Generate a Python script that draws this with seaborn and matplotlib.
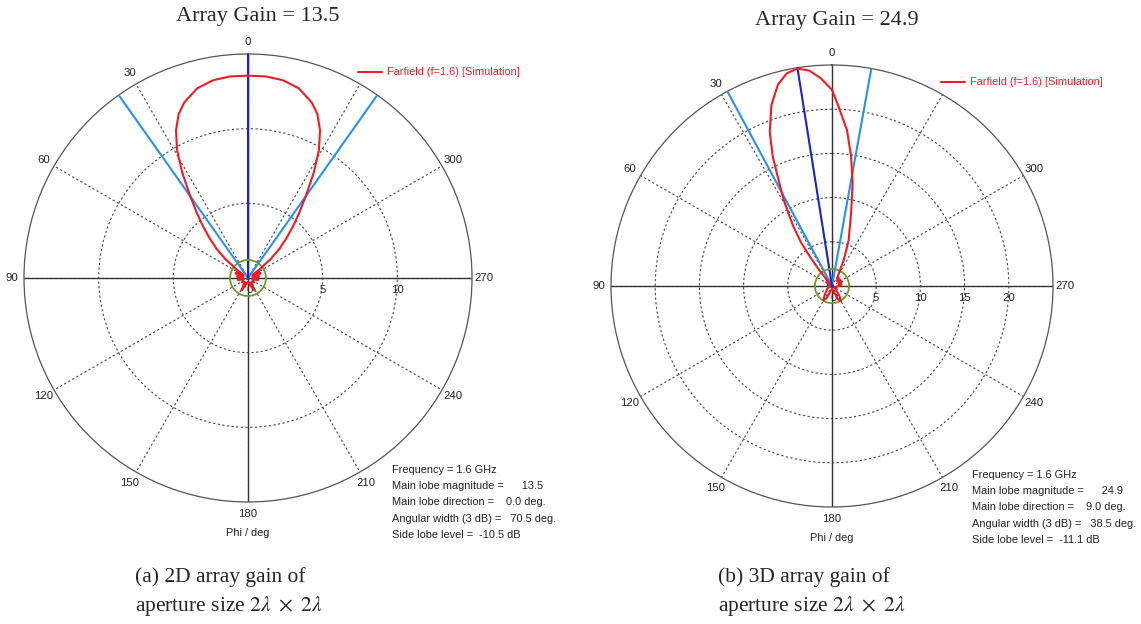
import numpy as np
import matplotlib
matplotlib.use("Agg")
import matplotlib.pyplot as plt
from matplotlib.lines import Line2D
import seaborn as sns

# ---------------- data ----------------
# (a) 2D array: farfield magnitude (linear) vs phi (deg, counter-clockwise from top)
a_theta = [0, 5, 10, 15, 20, 23, 26, 29, 32, 35, 38, 41, 44, 47, 50, 53, 56, 60, 64, 69, 74, 82, 90,
           100, 110, 125, 140, 152, 160, 170, 180, 190, 200, 208, 220, 235, 250, 260, 270, 278, 286,
           291, 296, 300, 304, 307, 310, 313, 316, 319, 322, 325, 328, 331, 334, 337, 340, 345, 350,
           355, 360]
a_r = [13.55, 13.55, 13.45, 13.15, 12.5, 11.9, 11.0, 9.8, 8.3, 6.8, 5.6, 4.6, 3.7, 2.9, 2.0, 1.0, 0.35,
       0.85, 0.4, 0.9, 0.3, 0.75, 0.35, 0.7, 0.3, 0.5, 0.35, 0.95, 0.6, 0.3, 0.25, 0.3, 0.6, 0.95, 0.35,
       0.5, 0.3, 0.7, 0.35, 0.75, 0.3, 0.9, 0.4, 0.85, 0.35, 1.0, 2.0, 2.9, 3.7, 4.6, 5.6, 6.8, 8.3, 9.8,
       11.0, 11.9, 12.5, 13.15, 13.45, 13.55, 13.55]

# (b) 3D array
b_theta = [0, 3, 6, 9, 12, 15, 18.5, 22, 24.6, 26.8, 29, 31, 33, 35.5, 37, 38.5, 40, 45, 55, 65, 80,
           100, 120, 135, 145, 150, 156, 165, 180, 195, 204, 210, 216, 225, 240, 255, 270, 280, 287,
           294, 300, 307, 314, 320, 326, 330, 332, 335.6, 340, 345.3, 348.6, 351.6, 354.5, 357.9, 360]
b_r = [22.2, 23.5, 24.5, 24.9, 24.6, 23.6, 21.6, 18.8, 16.1, 13.4, 11.4, 9.6, 8.0, 6.0, 4.1, 2.5, 1.2,
       0.4, 0.8, 0.3, 0.5, 0.3, 0.6, 1.0, 1.6, 1.9, 1.5, 0.6, 0.3, 0.6, 1.6, 2.0, 1.5, 0.7, 0.3, 0.5,
       0.7, 1.1, 0.8, 1.25, 0.9, 1.15, 0.8, 1.2, 1.0, 1.4, 1.7, 3.2, 5.5, 8.5, 11.8, 14.8, 17.7, 20.3, 22.2]

gains = [13.5, 24.9]
main_dirs = [0.0, 9.0]
widths_3db = [70.5, 38.5]
side_lobes = [-10.5, -11.1]
rmaxes = [15, 25]
rings = [[5, 10], [5, 10, 15, 20]]
angle_labels = ["0", "30", "60", "90", "120", "150", "180", "210", "240", "270", "300", ""]
titles = ["Array Gain = 13.5", "Array Gain = 24.9"]
captions = [["(a) 2D array gain of", "aperture size $2\\lambda\\ \\times\\ 2\\lambda$"],
            ["(b) 3D array gain of", "aperture size $2\\lambda\\ \\times\\ 2\\lambda$"]]
legend_label = "Farfield (f=1.6) [Simulation]"

# ---------------- style ----------------
sns.set_theme(style="white")
plt.rcParams["font.family"] = ["Liberation Sans", "DejaVu Sans"]
plt.rcParams["mathtext.fontset"] = "stix"

W, H = 1141, 624
fig = plt.figure(figsize=(W / 100, H / 100), dpi=100)


def fx(x):
    return x / W


def fy(y):
    return 1 - y / H


RED = "#ee1c24"
LBLUE = "#2b8ff0"
DBLUE = ["#1a1aff", "#2020c8"]
GREEN = "#6f9a2a"
GRID = "#444444"
TXT = "#222222"

centers = [(248, 278, 224), (832, 286, 221)]
data = [(a_theta, a_r), (b_theta, b_r)]
small = 7.9

for i in range(2):
    cx, cy, R = centers[i]
    ax = fig.add_axes([fx(cx - R), fy(cy + R), 2 * R / W, 2 * R / H], projection="polar")
    ax.set_theta_zero_location("N")
    ax.set_theta_direction(1)
    rmax = rmaxes[i]
    ax.set_ylim(0, rmax)
    ax.set_facecolor("white")
    ax.set_thetagrids(np.arange(0, 360, 30), labels=[""] * 12)
    ax.set_rgrids(rings[i], labels=[""] * len(rings[i]))
    ax.grid(True, linestyle=(0, (2.0, 2.2)), color=GRID, linewidth=0.8)
    ax.spines["polar"].set_color("#555555")
    ax.spines["polar"].set_linewidth(0.9)
    ax.tick_params(pad=0, length=0)

    # solid main axes
    for th in [0, 90, 180, 270]:
        ax.plot([np.deg2rad(th)] * 2, [0, rmax], color="#333333", lw=1.0, zorder=2)

    # 3 dB beam-width lines and main lobe direction
    for s in (-1, 1):
        th = np.deg2rad(main_dirs[i] + s * widths_3db[i] / 2)
        ax.plot([th, th], [0, rmax], color=LBLUE, lw=1.5, zorder=3)
    thm = np.deg2rad(main_dirs[i])
    ax.plot([thm, thm], [0, rmax], color=DBLUE[i], lw=1.5, zorder=3)

    # side lobe level circle
    sll = gains[i] * 10 ** (side_lobes[i] / 10)
    tt = np.linspace(0, 2 * np.pi, 300)
    ax.plot(tt, np.full_like(tt, sll), color=GREEN, lw=1.3, zorder=4)

    # farfield curve
    th_deg, rr = data[i]
    sns.lineplot(x=np.deg2rad(th_deg), y=rr, ax=ax, sort=False, estimator=None,
                 color=RED, lw=1.5, zorder=5)
    ax.set_xlabel("")
    ax.set_ylabel("")

    # angle labels
    for k, lab in enumerate(angle_labels):
        if lab:
            ax.text(np.deg2rad(30 * k), rmax * 1.055, lab, ha="center", va="center",
                    fontsize=small + 0.3, color=TXT, clip_on=False)
    # radial labels
    for rv in [0] + rings[i]:
        ax.annotate(str(rv), xy=(np.deg2rad(270), rv), xytext=(2 if rv == 0 else 0, -12),
                    textcoords="offset pixels", ha="center", va="center",
                    fontsize=small + 0.3, color=TXT, annotation_clip=False)

    ax.text(np.deg2rad(180), rmax * 1.14, "Phi / deg", ha="center", va="center",
            fontsize=small, color=TXT, clip_on=False)

# titles
fig.text(fx(258), fy(17), titles[0], ha="center", va="center", fontsize=16,
         family="Liberation Serif")
fig.text(fx(837), fy(21), titles[1], ha="center", va="center", fontsize=16,
         family="Liberation Serif")

# legends
for (x0, x1, yl) in [(358, 382, 72), (941, 965, 82)]:
    fig.add_artist(Line2D([fx(x0), fx(x1)], [fy(yl), fy(yl)], color=RED, lw=1.5,
                          transform=fig.transFigure))
    fig.text(fx(x1 + 5), fy(yl), legend_label, ha="left", va="center", fontsize=small,
             color=RED)

# info boxes
info_x = [392, 972]
info_y = [[470, 486, 502, 519, 535], [475, 491, 507.5, 524, 540]]
for i in range(2):
    x0 = info_x[i]
    ys = info_y[i]
    lines = ["Frequency = 1.6 GHz",
             f"Main lobe magnitude =      {gains[i]:.1f}",
             f"Main lobe direction =    {main_dirs[i]:.1f} deg.",
             f"Angular width (3 dB) =   {widths_3db[i]:.1f} deg.",
             f"Side lobe level =  {side_lobes[i]:.1f} dB"]
    for k in range(5):
        fig.text(fx(x0), fy(ys[k]), lines[k], ha="left", va="center", fontsize=small,
                 color=TXT)

# captions
for i, xc in enumerate([135, 718]):
    fig.text(fx(xc), fy(577), captions[i][0], ha="left", va="center", fontsize=15.5,
             family="Liberation Serif")
    fig.text(fx(xc), fy(606), captions[i][1], ha="left", va="center", fontsize=15.5,
             family="Liberation Serif")

fig.savefig("out.png", dpi=100, facecolor="white")
